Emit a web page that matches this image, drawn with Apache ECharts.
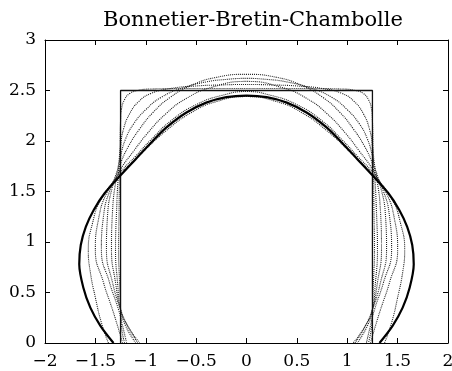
<!DOCTYPE html>
<html>
<head>
<meta charset="utf-8">
<script src="https://cdn.jsdelivr.net/npm/echarts@6/dist/echarts.min.js"></script>
<style>
  html, body { margin: 0; padding: 0; background: #fff; }
  #chart { width: 452px; height: 371px; }
</style>
</head>
<body>
<div id="chart"></div>
<script>
// Title and axis ticks
const titleText = 'Bonnetier-Bretin-Chambolle';
const xTicks = [-2, -1.5, -1, -0.5, 0, 0.5, 1, 1.5, 2];
const yTicks = [0, 0.5, 1, 1.5, 2, 2.5, 3];

// Initial rectangle (three visible sides)
const rectangle = [[-1.25, 0], [-1.25, 2.5], [1.25, 2.5], [1.25, 0]];

// Intermediate shapes: left half of each, from the bottom up to x = 0
const step1 = [[-1.21,0],[-1.24,0.15],[-1.25,0.33],[-1.26,0.6],[-1.27,0.92],[-1.265,1.3],[-1.26,1.7],[-1.255,2.0],[-1.25,2.2],[-1.24,2.32],[-1.21,2.41],[-1.16,2.47],[-1.08,2.5],[-0.95,2.515],[-0.6,2.52],[-0.3,2.52],[0,2.52]];
const step2 = [[-1.10,0],[-1.20,0.17],[-1.25,0.33],[-1.28,0.6],[-1.30,0.92],[-1.29,1.3],[-1.27,1.7],[-1.25,1.95],[-1.22,2.12],[-1.16,2.27],[-1.07,2.39],[-0.95,2.47],[-0.75,2.52],[-0.5,2.545],[-0.25,2.555],[0,2.56]];
const step3 = [[-1.06,0],[-1.18,0.17],[-1.25,0.33],[-1.30,0.6],[-1.34,0.92],[-1.33,1.3],[-1.29,1.65],[-1.25,1.85],[-1.2,2.02],[-1.12,2.17],[-1.0,2.31],[-0.85,2.43],[-0.65,2.52],[-0.4,2.585],[-0.2,2.61],[0,2.62]];
const step4 = [[-1.08,0],[-1.18,0.17],[-1.25,0.33],[-1.33,0.6],[-1.39,0.92],[-1.38,1.25],[-1.33,1.55],[-1.25,1.78],[-1.17,1.95],[-1.06,2.12],[-0.93,2.28],[-0.76,2.43],[-0.55,2.55],[-0.3,2.63],[0,2.66]];
const step5 = [[-1.19,0],[-1.23,0.17],[-1.27,0.33],[-1.36,0.6],[-1.44,0.92],[-1.42,1.25],[-1.36,1.5],[-1.25,1.72],[-1.12,1.9],[-0.98,2.08],[-0.8,2.27],[-0.6,2.42],[-0.35,2.53],[0,2.59]];
const step6 = [[-1.23,0],[-1.28,0.17],[-1.33,0.33],[-1.42,0.6],[-1.50,0.92],[-1.47,1.22],[-1.39,1.48],[-1.25,1.69],[-1.1,1.85],[-0.95,2.01],[-0.75,2.2],[-0.5,2.36],[-0.25,2.45],[0,2.49]];
const step7 = [[-1.37,0],[-1.44,0.2],[-1.50,0.45],[-1.55,0.7],[-1.57,0.92],[-1.53,1.18],[-1.44,1.43],[-1.25,1.67],[-1.05,1.87],[-0.8,2.1],[-0.55,2.28],[-0.3,2.39],[0,2.44]];

// Final shape, left half
const finalShape = [[-1.32,0],[-1.45,0.17],[-1.55,0.35],[-1.62,0.55],[-1.66,0.78],[-1.645,0.97],[-1.595,1.15],[-1.515,1.32],[-1.41,1.48],[-1.25,1.66],[-1.1,1.82],[-0.95,1.98],[-0.8,2.13],[-0.6,2.28],[-0.4,2.38],[-0.2,2.435],[0,2.45]];

// Shapes are symmetric about x = 0: append the reflected right half
function fullCurve(half) {
  const right = half.slice(0, -1).reverse().map(p => [-p[0], p[1]]);
  return half.concat(right);
}

const fmt = v => (v < 0 ? '\u2212' + Math.abs(v) : String(v));
const font = '"DejaVu Serif", serif';

const dotted = [step1, step2, step3, step4, step5, step6, step7].map(h => ({
  type: 'line',
  data: fullCurve(h),
  showSymbol: false,
  smooth: 0.5,
  lineStyle: { color: '#222', width: 1.1, type: [1, 1] },
  z: 2
}));

const tickStyle = { show: true, inside: true, length: 5, lineStyle: { color: '#000' } };
const lineStyleAxis = { show: true, onZero: false, lineStyle: { color: '#000', width: 1 } };

const chart = echarts.init(document.getElementById('chart'));
chart.setOption({
  animation: false,
  backgroundColor: '#fff',
  title: {
    text: titleText,
    left: 248, top: 5,
    textAlign: 'center',
    textStyle: { fontFamily: font, fontSize: 21, fontWeight: 'normal', color: '#000' }
  },
  grid: { left: 45, right: 4, top: 40, bottom: 28, outerBoundsMode: 'none', containLabel: false },
  xAxis: [{
    type: 'value', min: xTicks[0], max: xTicks[xTicks.length - 1], interval: 0.5,
    axisLine: lineStyleAxis, axisTick: tickStyle, splitLine: { show: false },
    axisLabel: { formatter: fmt, margin: 10, color: '#000', fontFamily: font, fontSize: 17, showMaxLabel: true, showMinLabel: true }
  }, {
    type: 'value', position: 'top', min: xTicks[0], max: xTicks[xTicks.length - 1], interval: 0.5,
    axisLine: lineStyleAxis, axisTick: tickStyle, splitLine: { show: false }, axisLabel: { show: false }
  }],
  yAxis: [{
    type: 'value', min: yTicks[0], max: yTicks[yTicks.length - 1], interval: 0.5,
    axisLine: lineStyleAxis, axisTick: tickStyle, splitLine: { show: false },
    axisLabel: { formatter: fmt, margin: 9, color: '#000', fontFamily: font, fontSize: 17 }
  }, {
    type: 'value', position: 'right', min: yTicks[0], max: yTicks[yTicks.length - 1], interval: 0.5,
    axisLine: lineStyleAxis, axisTick: tickStyle, splitLine: { show: false }, axisLabel: { show: false }
  }],
  series: [{
    type: 'line',
    data: rectangle,
    showSymbol: false,
    lineStyle: { color: '#111', width: 1.3 },
    z: 3
  }].concat(dotted, [{
    type: 'line',
    data: fullCurve(finalShape),
    showSymbol: false,
    smooth: 0.3,
    lineStyle: { color: '#000', width: 2.2 },
    z: 4
  }])
});
</script>
</body>
</html>
